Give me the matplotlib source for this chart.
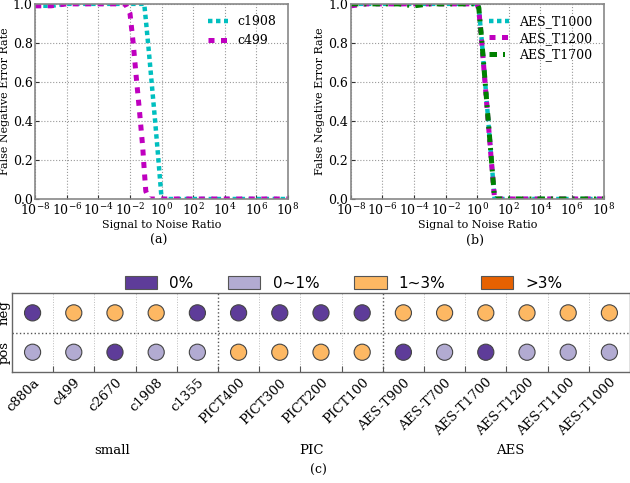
import matplotlib
matplotlib.use("Agg")
import matplotlib.pyplot as plt
import numpy as np
from matplotlib.patches import Patch

plt.rcParams['font.family'] = 'DejaVu Serif'
plt.rcParams['mathtext.fontset'] = 'dejavuserif'
plt.rcParams['axes.unicode_minus'] = False

# ---- panel (a) / (b) data: exponents of SNR and false negative rates ----
exp_a = [-8, -7, -6, -5, -4, -3, -2.3, -2.0, -1.8, -1.6, -1.4, -1.2, -1.1, -1.0, -0.8,
         -0.6, -0.4, -0.2, 0.0, 1, 2, 3, 4, 5, 6, 7, 8]
c1908 = [0.99, 0.99, 1.0, 1.0, 1.0, 1.0, 1.0, 1.0, 1.0, 1.0, 1.0, 1.0, 1.0, 0.92, 0.75,
         0.57, 0.39, 0.2, 0.0, 0.0, 0.0, 0.0, 0.0, 0.0, 0.0, 0.0, 0.0]
c499 = [0.99, 0.99, 1.0, 1.0, 1.0, 1.0, 1.0, 0.95, 0.8, 0.62, 0.45, 0.27, 0.15, 0.04, 0.0,
        0.0, 0.0, 0.0, 0.0, 0.0, 0.0, 0.0, 0.0, 0.0, 0.0, 0.0, 0.0]

exp_b = [-8, -7, -6, -5, -4, -3, -2, -1, 0, 0.1, 0.3, 0.5, 0.7, 0.9, 1.1, 2, 3, 4, 5, 6, 7, 8]
aes_t1000 = [1.0, 1.0, 1.0, 1.0, 1.0, 1.0, 1.0, 1.0, 1.0, 0.98, 0.8, 0.6, 0.4, 0.2, 0.0,
             0.0, 0.0, 0.0, 0.0, 0.0, 0.0, 0.0]
aes_t1200 = [0.99, 1.0, 1.0, 1.0, 1.0, 1.0, 1.0, 1.0, 1.0, 0.97, 0.79, 0.59, 0.39, 0.19, 0.0,
             0.0, 0.0, 0.0, 0.0, 0.0, 0.0, 0.0]
aes_t1700 = [1.0, 1.0, 1.0, 1.0, 0.99, 1.0, 1.0, 1.0, 1.0, 0.98, 0.8, 0.6, 0.4, 0.2, 0.0,
             0.0, 0.0, 0.0, 0.0, 0.0, 0.0, 0.0]

# ---- panel (c) data ----
circuits = ['c880a', 'c499', 'c2670', 'c1908', 'c1355',
            'PICT400', 'PICT300', 'PICT200', 'PICT100',
            'AES-T900', 'AES-T700', 'AES-T1700', 'AES-T1200', 'AES-T1100', 'AES-T1000']
groups = ['small', 'PIC', 'AES']
group_sizes = [5, 4, 6]
levels = ['0%', '0~1%', '1~3%', '>3%']
level_colors = ['#5e3c99', '#b2abd2', '#fdb863', '#e66101']
neg = [0, 2, 2, 2, 0, 0, 0, 0, 0, 2, 2, 2, 2, 2, 2]
pos = [1, 1, 0, 1, 1, 2, 2, 2, 2, 0, 1, 0, 1, 1, 1]

fig = plt.figure(figsize=(6.3, 4.83), dpi=100)

cyan = (0.0, 0.75, 0.75)
mag = (0.75, 0.0, 0.75)
green = (0.0, 0.5, 0.0)


def style_top(ax):
    ax.set_xscale('log')
    ax.set_xlim(1e-8, 1e8)
    ax.set_ylim(0, 1.0)
    ax.set_xticks([10.0 ** k for k in range(-8, 9, 2)])
    ax.set_xticklabels([r'$\mathregular{10^{%d}}$' % k for k in range(-8, 9, 2)])
    ax.minorticks_off()
    ax.set_yticks(np.arange(0, 1.01, 0.2))
    ax.set_yticklabels(['%.1f' % v for v in np.arange(0, 1.01, 0.2)])
    ax.grid(True, linestyle=':', color='#999999', linewidth=0.8)
    for s in ax.spines.values():
        s.set_color('#888888')
        s.set_linewidth(1.2)
    ax.tick_params(direction='in', labelsize=9, colors='#333333', length=3, pad=2)
    for t in ax.get_xticklabels() + ax.get_yticklabels():
        t.set_color('black')
    ax.set_xlabel('Signal to Noise Ratio', fontsize=8, labelpad=2)
    ax.set_ylabel('False Negative Error Rate', fontsize=8, labelpad=2)


ax1 = fig.add_axes([0.056, 0.588, 0.401, 0.404])
x_a = [10.0 ** e for e in exp_a]
ax1.plot(x_a, c1908, color=cyan, lw=3.2, linestyle=(0, (1, 0.8)), label='c1908')
ax1.plot(x_a, c499, color=mag, lw=3.6, linestyle=(0, (1.2, 1.3)), label='c499')
style_top(ax1)
ax1.legend(loc='upper right', frameon=False, fontsize=9, handlelength=1.6)
fig.text(0.252, 0.502, '(a)', ha='center', va='center', fontsize=9)

ax2 = fig.add_axes([0.557, 0.588, 0.401, 0.404])
x_b = [10.0 ** e for e in exp_b]
ax2.plot(x_b, aes_t1000, color=cyan, lw=3.2, linestyle=(0, (1, 0.8)), label='AES_T1000')
ax2.plot(x_b, aes_t1200, color=mag, lw=3.6, linestyle=(0, (1.2, 1.3)), label='AES_T1200')
ax2.plot(x_b, aes_t1700, color=green, lw=3.6, linestyle=(0, (1.5, 1.2, 0.4, 1.2)), label='AES_T1700')
style_top(ax2)
ax2.legend(loc='upper right', frameon=False, fontsize=9, handlelength=1.6, labelspacing=0.3)
fig.text(0.754, 0.502, '(b)', ha='center', va='center', fontsize=9)

# ---- panel (c) ----
ax3 = fig.add_axes([0.019, 0.230, 0.981, 0.163])
n = len(circuits)
for row, vals in ((1, neg), (0, pos)):
    ax3.scatter(range(n), [row] * n, s=135, marker='o',
                c=[level_colors[v] for v in vals], edgecolors='#444444',
                linewidths=0.8, zorder=3)
ax3.set_xlim(-0.5, n - 0.5)
ax3.set_ylim(-0.5, 1.5)
bounds = np.cumsum(group_sizes)[:-1] - 0.5
for b in np.arange(0.5, n - 0.5, 1.0):
    major = b in bounds
    ax3.axvline(b, color='#555555' if major else '#bbbbbb', linestyle=':',
                linewidth=1.0 if major else 0.7, zorder=1)
ax3.axhline(0.5, color='#555555', linestyle=':', linewidth=1.0, zorder=1)
ax3.set_yticks([1, 0])
ax3.set_yticklabels(['neg', 'pos'], rotation=90, va='center', fontsize=9.5)
ax3.set_xticks(np.arange(0.5, n - 0.5, 1.0))
ax3.set_xticklabels([])
ax3.set_xticks(range(n), minor=True)
ax3.set_xticklabels(circuits, minor=True, rotation=45, ha='right', rotation_mode='anchor',
                    fontsize=9.5)
ax3.tick_params(axis='x', which='minor', length=0, pad=3)
ax3.tick_params(axis='x', which='major', direction='in', length=4, color='#555555')
ax3.tick_params(axis='y', length=0, pad=1)
for s in ax3.spines.values():
    s.set_color('#666666')
    s.set_linewidth(1.0)

group_x = [0.178, 0.495, 0.81]
for g, xf in zip(groups, group_x):
    fig.text(xf, 0.068, g, ha='center', va='center', fontsize=9.5)
fig.text(0.505, 0.027, '(c)', ha='center', va='center', fontsize=9)

handles = [Patch(facecolor=c, edgecolor='#555555', linewidth=0.8) for c in level_colors]
fig.legend(handles, levels, loc='center', bbox_to_anchor=(0.545, 0.414), ncol=4,
           frameon=False, handlelength=2.1, handleheight=0.9, columnspacing=2.3,
           prop={'family': 'DejaVu Sans', 'size': 11})

fig.savefig('out.png', dpi=100)
